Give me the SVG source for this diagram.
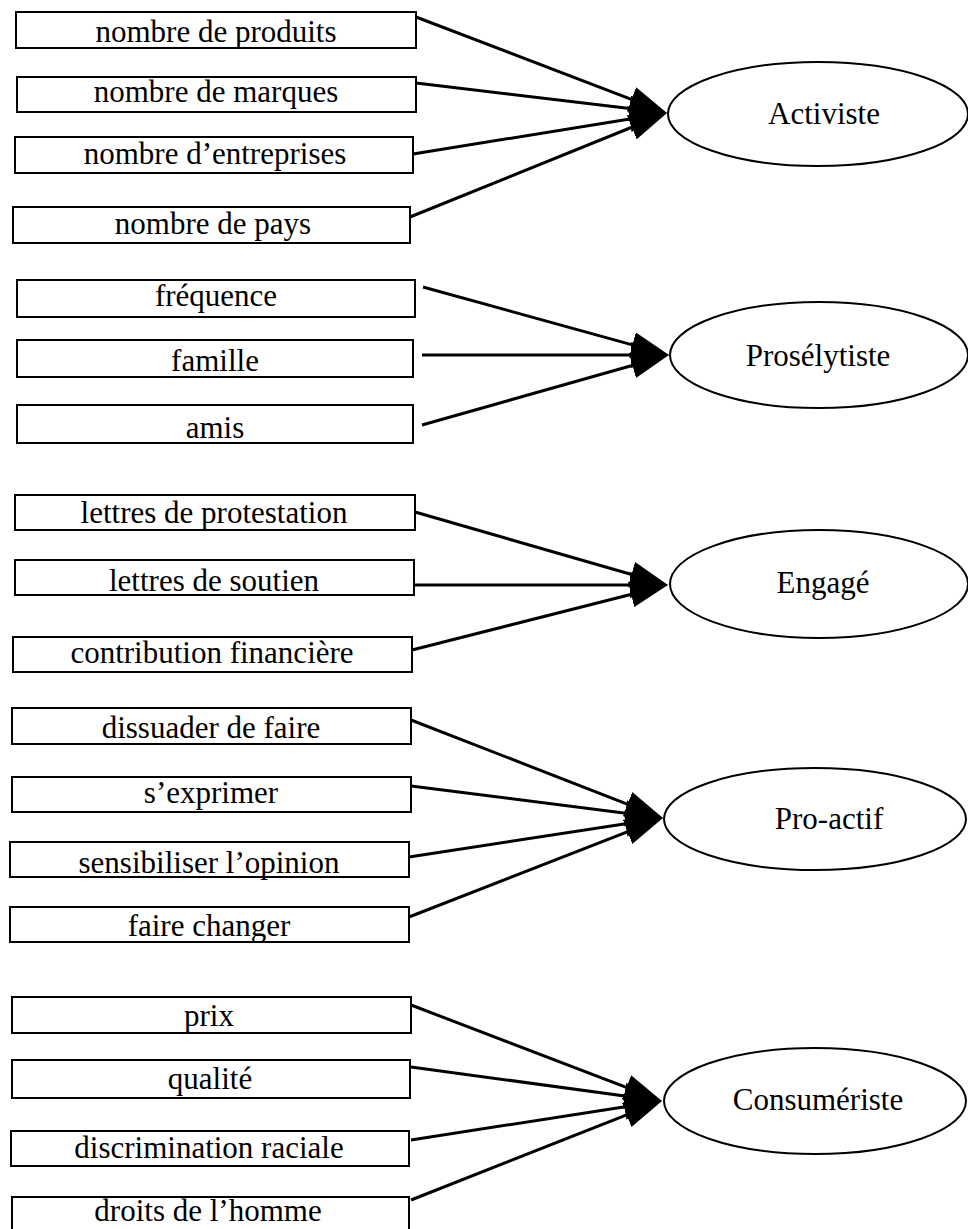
<svg xmlns="http://www.w3.org/2000/svg" width="968" height="1229" viewBox="0 0 968 1229">
  <style>
    .box rect { fill: #fff; stroke: #000; stroke-width: 2; }
    .lbl { font-family: "Liberation Serif", "Times New Roman", serif; font-size: 31px; fill: #000; text-anchor: middle; }
    .oval ellipse { fill: #fff; stroke: #000; stroke-width: 2; }
    #connectors line { stroke: #000; stroke-width: 3; marker-end: url(#ah); }
  </style>
  <defs>
    <marker id="ah" markerUnits="userSpaceOnUse" markerWidth="38" markerHeight="26" viewBox="0 0 38 26" refX="30" refY="13" orient="auto">
      <path d="M0,0 L38,13 L0,26 z" fill="#000"/>
    </marker>
  </defs>
  <rect width="968" height="1229" fill="#fff"/>

  <!-- connectors: each item box points to its construct -->
  <g id="connectors">
    <line x1="416" y1="17" x2="659.5" y2="110.1"/>
    <line x1="416" y1="83" x2="659.1" y2="112"/>
    <line x1="413" y1="154" x2="659.1" y2="114.3"/>
    <line x1="410" y1="217" x2="659.6" y2="116"/>

    <line x1="423" y1="287" x2="661.3" y2="352.9"/>
    <line x1="422" y1="355" x2="661" y2="355"/>
    <line x1="422" y1="425" x2="661.3" y2="357.2"/>

    <line x1="415" y1="512" x2="660.3" y2="582.8"/>
    <line x1="414" y1="585" x2="660" y2="585"/>
    <line x1="412" y1="650" x2="660.2" y2="587"/>

    <line x1="411" y1="720" x2="655.5" y2="815.1"/>
    <line x1="411" y1="786" x2="655.1" y2="817"/>
    <line x1="409" y1="857" x2="655.1" y2="819.2"/>
    <line x1="409" y1="917" x2="655.5" y2="820.9"/>

    <line x1="411" y1="1005" x2="654.5" y2="1098.1"/>
    <line x1="411" y1="1067" x2="654.1" y2="1099.9"/>
    <line x1="411" y1="1140" x2="654.1" y2="1102.2"/>
    <line x1="411" y1="1200" x2="654.6" y2="1103.9"/>
  </g>

  <!-- Activiste -->
  <g id="item-produits" class="box"><rect x="16" y="12" width="400" height="36"/><text class="lbl" x="216" y="42">nombre de produits</text></g>
  <g id="item-marques" class="box"><rect x="17" y="77" width="399" height="35"/><text class="lbl" x="216" y="102">nombre de marques</text></g>
  <g id="item-entreprises" class="box"><rect x="15" y="137" width="398" height="36"/><text class="lbl" x="215" y="164">nombre d’entreprises</text></g>
  <g id="item-pays" class="box"><rect x="13" y="207" width="397" height="36"/><text class="lbl" x="213" y="234">nombre de pays</text></g>
  <g id="activiste" class="oval"><ellipse cx="818" cy="114" rx="150" ry="52"/><text class="lbl" x="824" y="124">Activiste</text></g>

  <!-- Prosélytiste -->
  <g id="item-frequence" class="box"><rect x="17" y="280" width="398" height="37"/><text class="lbl" x="216" y="306">fréquence</text></g>
  <g id="item-famille" class="box"><rect x="17" y="340" width="396" height="37"/><text class="lbl" x="215" y="371">famille</text></g>
  <g id="item-amis" class="box"><rect x="17" y="405" width="396" height="38"/><text class="lbl" x="215" y="438">amis</text></g>
  <g id="proselytiste" class="oval"><ellipse cx="819" cy="355" rx="149" ry="53"/><text class="lbl" x="818" y="366">Prosélytiste</text></g>

  <!-- Engagé -->
  <g id="item-protestation" class="box"><rect x="15" y="495" width="400" height="35"/><text class="lbl" x="214" y="523">lettres de protestation</text></g>
  <g id="item-soutien" class="box"><rect x="15" y="560" width="399" height="35"/><text class="lbl" x="214" y="591">lettres de soutien</text></g>
  <g id="item-contribution" class="box"><rect x="13" y="637" width="399" height="35"/><text class="lbl" x="212" y="663">contribution financière</text></g>
  <g id="engage" class="oval"><ellipse cx="819" cy="584" rx="149" ry="54"/><text class="lbl" x="823" y="593">Engagé</text></g>

  <!-- Pro-actif -->
  <g id="item-dissuader" class="box"><rect x="12" y="708" width="399" height="36"/><text class="lbl" x="211" y="738">dissuader de faire</text></g>
  <g id="item-exprimer" class="box"><rect x="12" y="777" width="399" height="35"/><text class="lbl" x="211" y="803">s’exprimer</text></g>
  <g id="item-sensibiliser" class="box"><rect x="10" y="842" width="399" height="35"/><text class="lbl" x="209" y="873">sensibiliser l’opinion</text></g>
  <g id="item-changer" class="box"><rect x="10" y="907" width="399" height="35"/><text class="lbl" x="209" y="936">faire changer</text></g>
  <g id="proactif" class="oval"><ellipse cx="815" cy="819" rx="151" ry="51"/><text class="lbl" x="829" y="829">Pro-actif</text></g>

  <!-- Consumériste -->
  <g id="item-prix" class="box"><rect x="12" y="997" width="399" height="36"/><text class="lbl" x="209" y="1026">prix</text></g>
  <g id="item-qualite" class="box"><rect x="12" y="1060" width="398" height="38"/><text class="lbl" x="210" y="1089">qualité</text></g>
  <g id="item-discrimination" class="box"><rect x="11" y="1131" width="398" height="35"/><text class="lbl" x="209" y="1158">discrimination raciale</text></g>
  <g id="item-droits" class="box"><rect x="12" y="1197" width="397" height="42"/><text class="lbl" x="208" y="1221">droits de l’homme</text></g>
  <g id="consumeriste" class="oval"><ellipse cx="815" cy="1101" rx="151" ry="53"/><text class="lbl" x="818" y="1110">Consumériste</text></g>
</svg>
